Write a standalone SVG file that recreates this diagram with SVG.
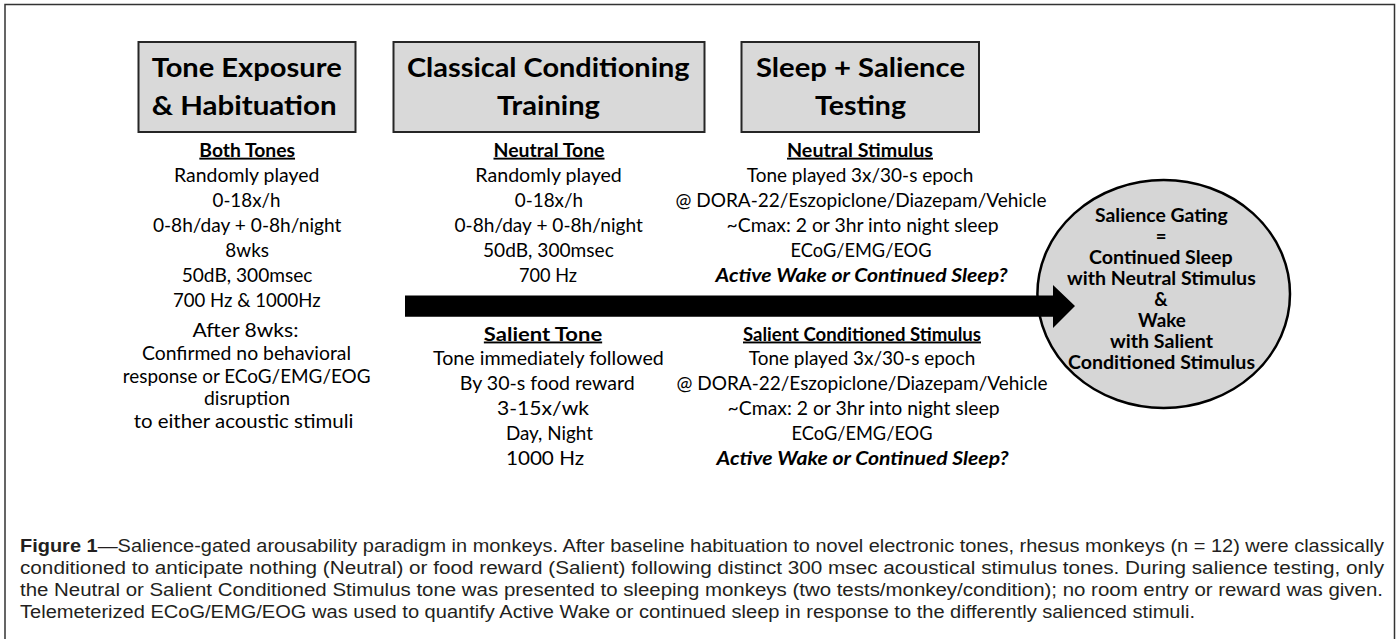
<svg xmlns="http://www.w3.org/2000/svg" width="1398" height="639" viewBox="0 0 1398 639">
<style>
.frame{fill:none;stroke:#333;stroke-width:1.5}
.box{fill:#d9d9d9;stroke:#262626;stroke-width:2}
.title{font-family:Lato,"Liberation Sans",sans-serif;font-weight:700;font-size:27px;fill:#000;text-anchor:middle}
.t{font-family:Lato,"Liberation Sans",sans-serif;font-size:19px;fill:#000;text-anchor:middle}
.h{font-weight:700;text-decoration:underline}
.q{font-weight:700;font-style:italic}
.c{font-family:Lato,"Liberation Sans",sans-serif;font-weight:700;font-size:18.5px;fill:#000;text-anchor:middle}
.cap{font-family:"Liberation Sans",Arial,sans-serif;font-size:17.5px;fill:#231f20}
.arrow{fill:#000}
.gate{fill:#d6d6d6;stroke:#000;stroke-width:2.5}
</style>

<g id="frame"><path class="frame" d="M5,645 V4.5 H1394.5 V645"/></g>

<g id="node-tone-exposure">
<rect class="box" x="138.5" y="42" width="217" height="90"/>
<text class="title" x="246.7" y="77.3" textLength="190" lengthAdjust="spacingAndGlyphs">Tone Exposure</text>
<text class="title" x="244.2" y="115" textLength="185" lengthAdjust="spacingAndGlyphs">&amp; Habituation</text>
</g>

<g id="node-classical-conditioning">
<rect class="box" x="393.5" y="42" width="311" height="90"/>
<text class="title" x="548.3" y="77.3" textLength="282.7" lengthAdjust="spacingAndGlyphs">Classical Conditioning</text>
<text class="title" x="548.5" y="115" textLength="103" lengthAdjust="spacingAndGlyphs">Training</text>
</g>

<g id="node-sleep-salience">
<rect class="box" x="741.5" y="42" width="237.5" height="90"/>
<text class="title" x="860.5" y="77.3" textLength="209" lengthAdjust="spacingAndGlyphs">Sleep + Salience</text>
<text class="title" x="860.5" y="115" textLength="91" lengthAdjust="spacingAndGlyphs">Testing</text>
</g>

<g id="text-both-tones">
<text class="t h" x="247.2" y="156.7" textLength="95.7" lengthAdjust="spacingAndGlyphs">Both Tones</text>
<text class="t" x="246.7" y="181.7" textLength="145.3" lengthAdjust="spacingAndGlyphs">Randomly played</text>
<text class="t" x="246.5" y="206.7" textLength="68" lengthAdjust="spacingAndGlyphs">0-18x/h</text>
<text class="t" x="247.2" y="231.7" textLength="188.5" lengthAdjust="spacingAndGlyphs">0-8h/day + 0-8h/night</text>
<text class="t" x="247.2" y="256.7" textLength="43.7" lengthAdjust="spacingAndGlyphs">8wks</text>
<text class="t" x="247.1" y="281.7" textLength="130.8" lengthAdjust="spacingAndGlyphs">50dB, 300msec</text>
<text class="t" x="246.8" y="306.7" textLength="147.5" lengthAdjust="spacingAndGlyphs">700 Hz &amp; 1000Hz</text>
</g>

<g id="text-after-8wks">
<text class="t" x="245.5" y="337.3" textLength="106" lengthAdjust="spacingAndGlyphs">After 8wks:</text>
<text class="t" x="246.5" y="360" textLength="209" lengthAdjust="spacingAndGlyphs">Confirmed no behavioral</text>
<text class="t" x="246.6" y="382.7" textLength="247.7" lengthAdjust="spacingAndGlyphs">response or ECoG/EMG/EOG</text>
<text class="t" x="247" y="405.4" textLength="86" lengthAdjust="spacingAndGlyphs">disruption</text>
<text class="t" x="243.5" y="428.1" textLength="219.7" lengthAdjust="spacingAndGlyphs">to either acoustic stimuli</text>
</g>

<g id="text-neutral-tone">
<text class="t h" x="549" y="156.7" textLength="111" lengthAdjust="spacingAndGlyphs">Neutral Tone</text>
<text class="t" x="548.6" y="181.7" textLength="146.5" lengthAdjust="spacingAndGlyphs">Randomly played</text>
<text class="t" x="548.9" y="206.7" textLength="68.3" lengthAdjust="spacingAndGlyphs">0-18x/h</text>
<text class="t" x="548.7" y="231.7" textLength="188.4" lengthAdjust="spacingAndGlyphs">0-8h/day + 0-8h/night</text>
<text class="t" x="548.4" y="256.7" textLength="130.8" lengthAdjust="spacingAndGlyphs">50dB, 300msec</text>
<text class="t" x="548" y="281.7" textLength="58" lengthAdjust="spacingAndGlyphs">700 Hz</text>
</g>

<g id="text-salient-tone">
<text class="t h" x="543" y="340.5" textLength="118.3" lengthAdjust="spacingAndGlyphs">Salient Tone</text>
<text class="t" x="548.4" y="365.3" textLength="230.8" lengthAdjust="spacingAndGlyphs">Tone immediately followed</text>
<text class="t" x="547.3" y="390.1" textLength="175" lengthAdjust="spacingAndGlyphs">By 30-s food reward</text>
<text class="t" x="543" y="414.9" textLength="92" lengthAdjust="spacingAndGlyphs">3-15x/wk</text>
<text class="t" x="549.4" y="439.7" textLength="87" lengthAdjust="spacingAndGlyphs">Day, Night</text>
<text class="t" x="545" y="464.5" textLength="78.2" lengthAdjust="spacingAndGlyphs">1000 Hz</text>
</g>

<g id="text-neutral-stimulus">
<text class="t h" x="860" y="156.7" textLength="146" lengthAdjust="spacingAndGlyphs">Neutral Stimulus</text>
<text class="t" x="860" y="181.7" textLength="226.5" lengthAdjust="spacingAndGlyphs">Tone played 3x/30-s epoch</text>
<text class="t" x="861" y="206.7" textLength="371" lengthAdjust="spacingAndGlyphs">@ DORA-22/Eszopiclone/Diazepam/Vehicle</text>
<text class="t" x="862.6" y="231.7" textLength="272" lengthAdjust="spacingAndGlyphs">~Cmax: 2 or 3hr into night sleep</text>
<text class="t" x="861" y="256.7" textLength="141" lengthAdjust="spacingAndGlyphs">ECoG/EMG/EOG</text>
<text class="t q" x="861.5" y="281.7" textLength="292" lengthAdjust="spacingAndGlyphs">Active Wake or Continued Sleep?</text>
</g>

<g id="text-salient-conditioned-stimulus">
<text class="t h" x="862" y="340.5" textLength="238" lengthAdjust="spacingAndGlyphs">Salient Conditioned Stimulus</text>
<text class="t" x="862" y="365.3" textLength="226.5" lengthAdjust="spacingAndGlyphs">Tone played 3x/30-s epoch</text>
<text class="t" x="862" y="390.1" textLength="371" lengthAdjust="spacingAndGlyphs">@ DORA-22/Eszopiclone/Diazepam/Vehicle</text>
<text class="t" x="863.6" y="414.9" textLength="272" lengthAdjust="spacingAndGlyphs">~Cmax: 2 or 3hr into night sleep</text>
<text class="t" x="862" y="439.7" textLength="141" lengthAdjust="spacingAndGlyphs">ECoG/EMG/EOG</text>
<text class="t q" x="862.5" y="464.5" textLength="292" lengthAdjust="spacingAndGlyphs">Active Wake or Continued Sleep?</text>
</g>

<g id="node-salience-gating">
<ellipse class="gate" cx="1163.7" cy="294" rx="126.3" ry="114"/>
<text class="c" x="1161.4" y="222.3" textLength="132.7" lengthAdjust="spacingAndGlyphs">Salience Gating</text>
<text class="c" x="1161" y="243.3">=</text>
<text class="c" x="1160.8" y="264.3" textLength="143.7" lengthAdjust="spacingAndGlyphs">Continued Sleep</text>
<text class="c" x="1161.4" y="285" textLength="188.7" lengthAdjust="spacingAndGlyphs">with Neutral Stimulus</text>
<text class="c" x="1161" y="306">&amp;</text>
<text class="c" x="1161.9" y="326.7" textLength="47.7" lengthAdjust="spacingAndGlyphs">Wake</text>
<text class="c" x="1161.5" y="348.3" textLength="103" lengthAdjust="spacingAndGlyphs">with Salient</text>
<text class="c" x="1161.5" y="369" textLength="187" lengthAdjust="spacingAndGlyphs">Conditioned Stimulus</text>
</g>

<g id="connectors">
<polygon class="arrow" points="405,295.5 1053,295.5 1053,285 1075,306 1053,328 1053,316.8 405,316.8"/>
</g>

<g id="caption">
<text class="cap" x="20" y="551.7" textLength="1364" lengthAdjust="spacingAndGlyphs"><tspan font-weight="700">Figure 1</tspan>—Salience-gated arousability paradigm in monkeys. After baseline habituation to novel electronic tones, rhesus monkeys (n = 12) were classically</text>
<text class="cap" x="20" y="574" textLength="1364" lengthAdjust="spacingAndGlyphs">conditioned to anticipate nothing (Neutral) or food reward (Salient) following distinct 300 msec acoustical stimulus tones. During salience testing, only</text>
<text class="cap" x="20" y="596" textLength="1363" lengthAdjust="spacingAndGlyphs">the Neutral or Salient Conditioned Stimulus tone was presented to sleeping monkeys (two tests/monkey/condition); no room entry or reward was given.</text>
<text class="cap" x="20" y="617.5" textLength="1175" lengthAdjust="spacingAndGlyphs">Telemeterized ECoG/EMG/EOG was used to quantify Active Wake or continued sleep in response to the differently salienced stimuli.</text>
</g>
</svg>
